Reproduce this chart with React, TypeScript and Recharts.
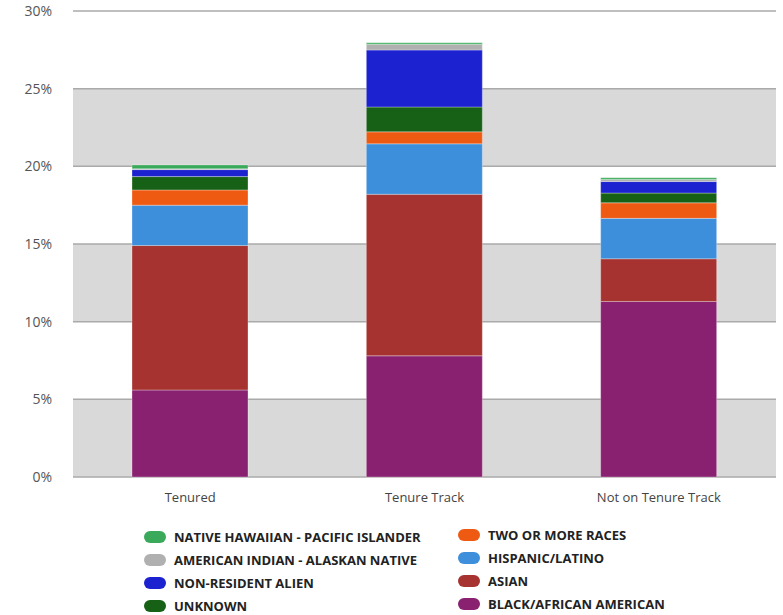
import React from 'react'
import { BarChart, Bar, XAxis, YAxis, CartesianGrid, Legend } from 'recharts'

const categories = ['Tenured', 'Tenure Track', 'Not on Tenure Track']

const black = [5.6, 7.8, 11.3]
const asian = [9.3, 10.4, 2.75]
const hispanic = [2.6, 3.25, 2.6]
const twoOrMore = [0.98, 0.77, 1.0]
const unknown = [0.86, 1.6, 0.63]
const nonResident = [0.45, 3.67, 0.74]
const americanIndian = [0.05, 0.37, 0.13]
const nativeHawaiian = [0.25, 0.09, 0.11]

const yTicks = [0, 5, 10, 15, 20, 25, 30]

// bottom of the stack first
const series = [
  { key: 'black', label: 'BLACK/AFRICAN AMERICAN', color: '#8a2070', values: black },
  { key: 'asian', label: 'ASIAN', color: '#a63330', values: asian },
  { key: 'hispanic', label: 'HISPANIC/LATINO', color: '#3d8fdc', values: hispanic },
  { key: 'two', label: 'TWO OR MORE RACES', color: '#ee5a12', values: twoOrMore },
  { key: 'unknown', label: 'UNKNOWN', color: '#176117', values: unknown },
  { key: 'nra', label: 'NON-RESIDENT ALIEN', color: '#1c22d0', values: nonResident },
  { key: 'aian', label: 'AMERICAN INDIAN - ALASKAN NATIVE', color: '#b0b0b0', values: americanIndian },
  { key: 'nhpi', label: 'NATIVE HAWAIIAN - PACIFIC ISLANDER', color: '#3aaa5a', values: nativeHawaiian },
]

const data = categories.map((name, i) => {
  const row: Record<string, string | number> = { name }
  series.forEach(s => { row[s.key] = s.values[i] })
  return row
})

const font = '"Open Sans", sans-serif'

const leftCol = ['nhpi', 'aian', 'nra', 'unknown']
const rightCol = ['two', 'hispanic', 'asian', 'black']

const LegendItem = ({ k, x, y }: { k: string; x: number; y: number }) => {
  const s = series.find(d => d.key === k)!
  return (
    <div style={{ position: 'absolute', left: x, top: y, display: 'flex', alignItems: 'center' }}>
      <div style={{ width: 22, height: 12, borderRadius: 6, background: s.color, marginRight: 8 }} />
      <span style={{ fontFamily: font, fontSize: 13, fontWeight: 700, color: '#222', whiteSpace: 'nowrap' }}>{s.label}</span>
    </div>
  )
}

const renderLegend = () => (
  <div style={{ position: 'relative', width: 783, height: 108 }}>
    {leftCol.map((k, i) => <LegendItem key={k} k={k} x={144} y={21 + i * 23} />)}
    {rightCol.map((k, i) => <LegendItem key={k} k={k} x={458} y={19 + i * 23} />)}
  </div>
)

const App = () => {
  return (
    <div style={{ position: 'absolute', left: 0, top: 0 }}>
      <BarChart
        width={783}
        height={615}
        data={data}
        margin={{ top: 11, right: 7, left: 0, bottom: 0 }}
      >
        <CartesianGrid
          vertical={false}
          stroke="#aaaaaa"
          strokeWidth={1.5}
          horizontalFill={['#ffffff', '#d9d9d9']}
          fillOpacity={1}
        />
        <XAxis
          dataKey="name"
          axisLine={false}
          tickLine={false}
          height={30}
          tickMargin={10}
          tick={{ fontFamily: font, fontSize: 13, fill: '#444' }}
        />
        <YAxis
          width={73}
          domain={[0, 30]}
          ticks={yTicks}
          axisLine={false}
          tickLine={false}
          tickMargin={15}
          tickFormatter={(v: number) => `${v}%`}
          tick={{ fontFamily: font, fontSize: 14, fill: '#555' }}
        />
        <Legend
          verticalAlign="bottom"
          content={renderLegend}
          wrapperStyle={{ left: 0, width: 783, height: 108 }}
        />
        {series.map(s => (
          <Bar
            key={s.key}
            dataKey={s.key}
            stackId="a"
            fill={s.color}
            stroke="rgba(255,255,255,0.3)"
            strokeWidth={1}
            barSize={116}
            isAnimationActive={false}
          />
        ))}
      </BarChart>
    </div>
  )
}

export default App
